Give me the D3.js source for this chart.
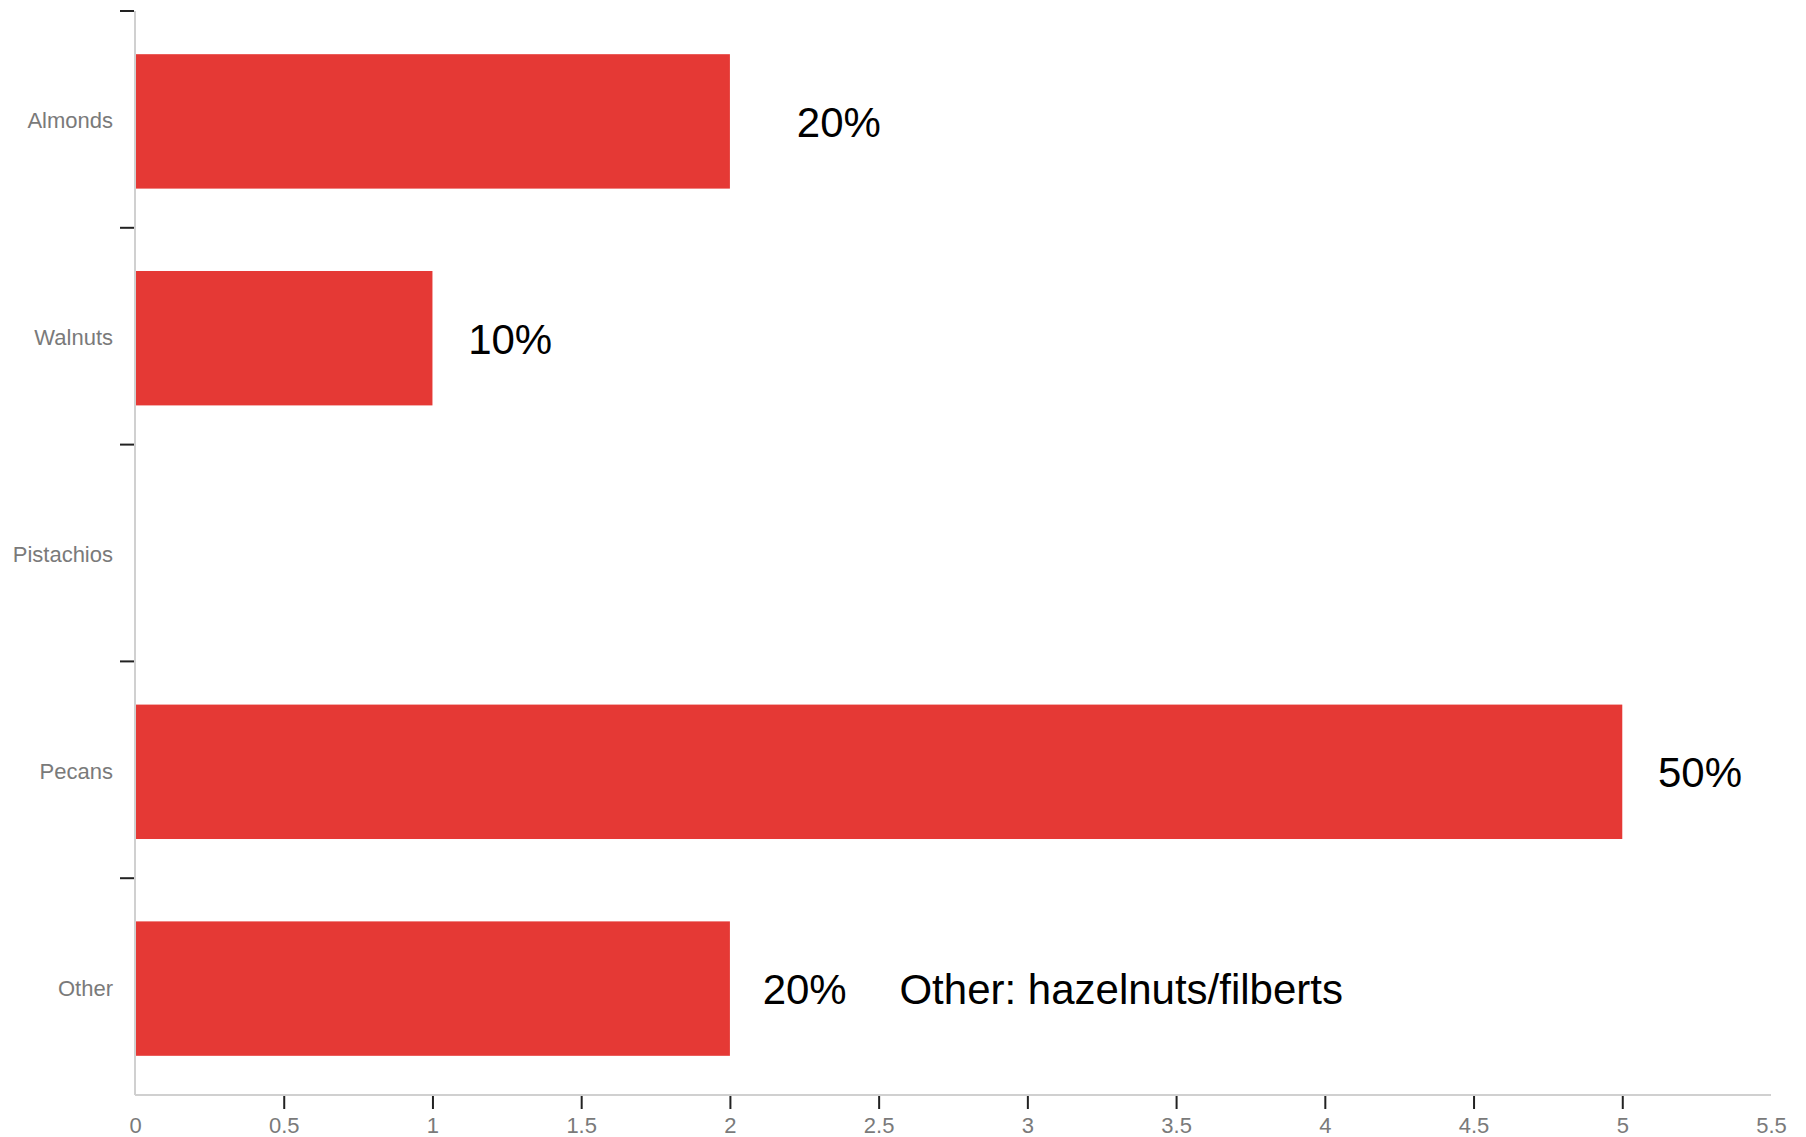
<!DOCTYPE html>
<html>
<head>
<meta charset="utf-8">
<script src="https://cdn.jsdelivr.net/npm/d3@7"></script>
<style>
  html, body { margin: 0; padding: 0; background: #fff; }
  svg { display: block; }
</style>
</head>
<body>
<svg id="chart" width="1806" height="1137"></svg>
<script>
  const categories = ["Almonds", "Walnuts", "Pistachios", "Pecans", "Other"];
  const values = [2, 1, 0, 5, 2];
  const xTicks = [0, 0.5, 1, 1.5, 2, 2.5, 3, 3.5, 4, 4.5, 5, 5.5];
  // annotation texts, anchored in data units along x
  const notes = [
    { category: "Almonds", text: "20%", at: 2.225 },
    { category: "Walnuts", text: "10%", at: 1.12 },
    { category: "Pecans", text: "50%", at: 5.12 },
    { category: "Other", text: "20%", at: 2.11 },
    { category: "Other", text: "Other: hazelnuts/filberts", at: 2.57 },
  ];

  const svg = d3.select("#chart");
  const plot = { left: 135, right: 1771, top: 11, bottom: 1095 };

  const x = d3.scaleLinear().domain([0, 5.5]).range([plot.left, plot.right]);
  const y = d3.scaleBand().domain(categories).range([plot.top, plot.bottom]).paddingInner(0.38).paddingOuter(0.19);
  const barShift = 2;

  // bars
  svg.append("g")
    .attr("transform", `translate(0,${barShift})`)
    .selectAll("rect")
    .data(categories.map((c, i) => ({ c, v: values[i] })).filter((d) => d.v > 0))
    .join("rect")
    .attr("x", x(0) + 1)
    .attr("y", (d) => y(d.c))
    .attr("width", (d) => x(d.v) - x(0) - 1)
    .attr("height", y.bandwidth())
    .attr("fill", "#e53935");

  // axis lines
  svg.append("line").attr("x1", plot.left).attr("x2", plot.left).attr("y1", plot.top).attr("y2", plot.bottom)
    .attr("stroke", "#d0d0d0").attr("stroke-width", 2);
  svg.append("line").attr("x1", plot.left).attr("x2", plot.right).attr("y1", plot.bottom).attr("y2", plot.bottom)
    .attr("stroke", "#d0d0d0").attr("stroke-width", 2);

  // y axis labels
  svg.append("g")
    .attr("transform", `translate(${plot.left},${barShift})`)
    .call(d3.axisLeft(y).tickSize(0).tickPadding(22))
    .call((axis) => axis.select(".domain").remove())
    .call((axis) => axis.selectAll("text").attr("fill", "#7a7a7a").style("font-family", "'Liberation Sans', Arial, sans-serif").style("font-size", "22px"));

  // y boundary ticks between bands
  const step = y.step();
  svg.append("g")
    .selectAll("line")
    .data(categories)
    .join("line")
    .attr("x1", plot.left - 15).attr("x2", plot.left - 1)
    .attr("y1", (d) => y(d) - y.paddingInner() * step / 2)
    .attr("y2", (d) => y(d) - y.paddingInner() * step / 2)
    .attr("stroke", "#222").attr("stroke-width", 2);

  // x axis
  svg.append("g")
    .attr("transform", `translate(0,${plot.bottom + 1})`)
    .call(d3.axisBottom(x).tickValues(xTicks).tickFormat((d) => String(d)).tickSize(13).tickPadding(8))
    .call((axis) => axis.select(".domain").remove())
    .call((axis) => axis.selectAll(".tick line").attr("stroke", "#222").attr("stroke-width", 2)
      .attr("display", (d) => (d === 0 || d === 5.5 ? "none" : null)))
    .call((axis) => axis.selectAll("text").attr("fill", "#7a7a7a").style("font-family", "'Liberation Sans', Arial, sans-serif").style("font-size", "22px"));

  // annotations
  svg.append("g")
    .selectAll("text")
    .data(notes)
    .join("text")
    .attr("x", (d) => x(d.at))
    .attr("y", (d) => y(d.category) + barShift + y.bandwidth() / 2)
    .attr("dy", "0.37em")
    .attr("fill", "#000")
    .style("font-family", "'Liberation Sans', Arial, sans-serif")
    .style("font-size", "42px")
    .text((d) => d.text);
</script>
</body>
</html>
